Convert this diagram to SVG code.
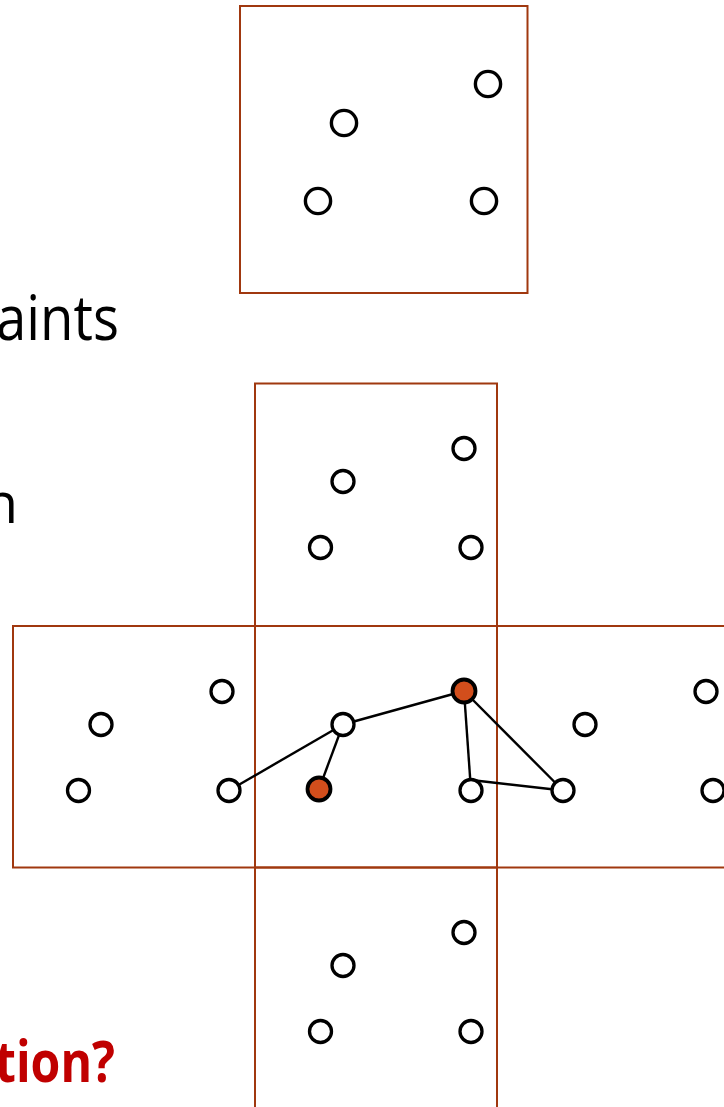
<svg xmlns="http://www.w3.org/2000/svg" width="724" height="1107" viewBox="0 0 724 1107">
<style>
.box{fill:none;stroke:#A0380F;stroke-width:2}
.pt{fill:#fff;stroke:#000;stroke-width:3.3}
.big{fill:#fff;stroke:#000;stroke-width:3.4}
.hot{fill:#D24E1C;stroke:#000;stroke-width:3.8}
.edge{stroke:#000;stroke-width:2.4;fill:none}
.txt{font-family:"Open Sans","Liberation Sans",sans-serif;fill:#000}
.q{font-family:"Open Sans","Liberation Sans",sans-serif;font-weight:bold;fill:#C00000}
</style>
<rect width="724" height="1107" fill="#fff"/>
<g id="text">
<text class="txt" x="-4" y="340" font-size="62" textLength="123" lengthAdjust="spacingAndGlyphs">aints</text>
<text class="txt" x="18" y="523" font-size="56" text-anchor="end">n</text>
<text class="q" x="-5" y="1082" font-size="57" textLength="120" lengthAdjust="spacingAndGlyphs">tion?</text>
</g>
<g id="topcell">
<rect class="box" x="240" y="6" width="287.5" height="287"/>
<circle class="big" cx="488" cy="84" r="12.6"/>
<circle class="big" cx="344" cy="123" r="12.6"/>
<circle class="big" cx="318" cy="201" r="12.6"/>
<circle class="big" cx="484" cy="201" r="12.6"/>
</g>
<g id="cell-top">
<rect class="box" x="255" y="383.5" width="242" height="242.5"/>
</g>
<g id="cell-left">
<rect class="box" x="13" y="626" width="242" height="241.5"/>
</g>
<g id="cell-center">
<rect class="box" x="255" y="626" width="242" height="241.5"/>
</g>
<g id="cell-right">
<rect class="box" x="497" y="626" width="240" height="241.5"/>
</g>
<g id="cell-bottom">
<rect class="box" x="255" y="867.5" width="242" height="250"/>
</g>
<g id="connectors">
<line class="edge" x1="229" y1="790.5" x2="343" y2="724.5"/>
<line class="edge" x1="343" y1="724.5" x2="319" y2="789"/>
<line class="edge" x1="343" y1="724.5" x2="464" y2="691"/>
<line class="edge" x1="464" y1="691" x2="471" y2="790.5"/>
<line class="edge" x1="464" y1="691" x2="563" y2="790.5"/>
<line class="edge" x1="471" y1="780" x2="563" y2="790.5"/>
</g>
<g id="points-top">
<circle class="pt" cx="464" cy="448.5" r="11"/>
<circle class="pt" cx="343" cy="481.5" r="11"/>
<circle class="pt" cx="320.5" cy="547.5" r="11"/>
<circle class="pt" cx="471" cy="547.5" r="11"/>
</g>
<g id="points-left">
<circle class="pt" cx="222" cy="691.5" r="11"/>
<circle class="pt" cx="101" cy="724.5" r="11"/>
<circle class="pt" cx="78.5" cy="790.5" r="11"/>
<circle class="pt" cx="229" cy="790.5" r="11"/>
</g>
<g id="points-center">
<circle class="hot" cx="464" cy="691" r="11.5"/>
<circle class="pt" cx="343" cy="724.5" r="11"/>
<circle class="hot" cx="319" cy="789" r="11.5"/>
<circle class="pt" cx="471" cy="790.5" r="11"/>
</g>
<g id="points-right">
<circle class="pt" cx="706" cy="691.5" r="11"/>
<circle class="pt" cx="585" cy="724.5" r="11"/>
<circle class="pt" cx="563" cy="790.5" r="11"/>
<circle class="pt" cx="713" cy="790.5" r="11"/>
</g>
<g id="points-bottom">
<circle class="pt" cx="464" cy="932.5" r="11"/>
<circle class="pt" cx="343" cy="965.5" r="11"/>
<circle class="pt" cx="320.5" cy="1031.5" r="11"/>
<circle class="pt" cx="471" cy="1031.5" r="11"/>
</g>
</svg>
